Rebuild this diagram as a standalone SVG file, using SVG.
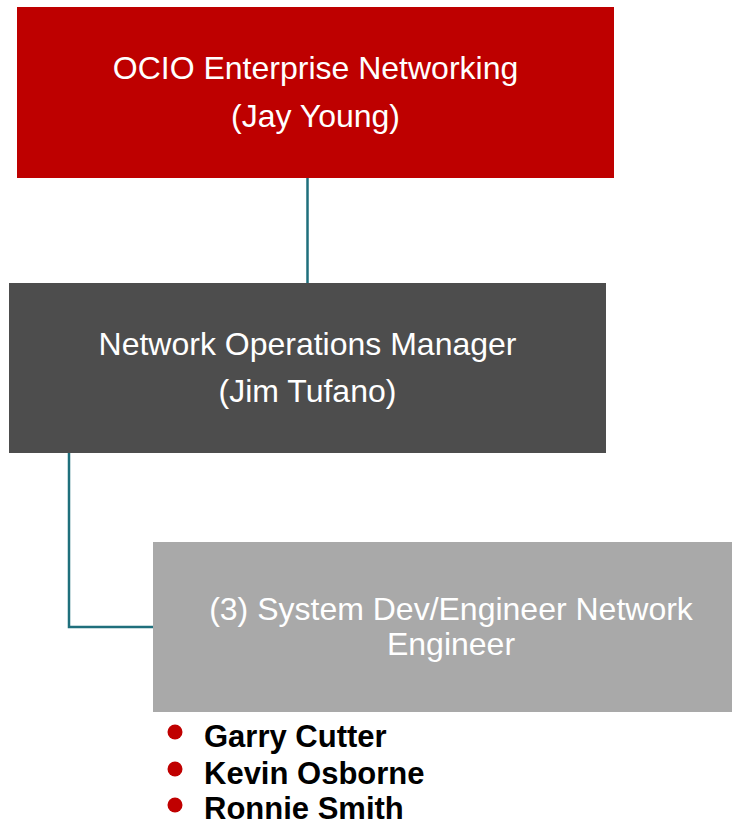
<svg xmlns="http://www.w3.org/2000/svg" width="732" height="826" viewBox="0 0 732 826">
<style>
.t{font-family:"Liberation Sans",Arial,sans-serif;font-size:32px;fill:#ffffff;text-anchor:middle}
.b{font-family:"Liberation Sans",Arial,sans-serif;font-size:31px;font-weight:bold;fill:#000000}
.c{fill:none;stroke:#1F6F7C;stroke-width:2.5}
</style>
<rect width="732" height="826" fill="#ffffff"/>
<g id="connectors">
<path class="c" d="M307.5 178 V283"/>
<path class="c" d="M69 453 V627 H153"/>
</g>
<g id="ocio">
<rect x="17" y="7" width="597" height="171" fill="#BE0000"/>
<text class="t" x="315.5" y="79">OCIO Enterprise Networking</text>
<text class="t" x="315.5" y="127">(Jay Young)</text>
</g>
<g id="manager">
<rect x="9" y="283" width="597" height="170" fill="#4D4D4D"/>
<text class="t" x="307.5" y="355">Network Operations Manager</text>
<text class="t" x="307.5" y="402">(Jim Tufano)</text>
</g>
<g id="engineer">
<rect x="153" y="542" width="579" height="170" fill="#A9A9A9"/>
<text class="t" x="451" y="620">(3) System Dev/Engineer Network</text>
<text class="t" x="451" y="655">Engineer</text>
</g>
<g id="staff">
<circle cx="175" cy="732" r="7.5" fill="#C00000"/>
<circle cx="175" cy="769" r="7.5" fill="#C00000"/>
<circle cx="175" cy="805" r="7.5" fill="#C00000"/>
<text class="b" x="204" y="747">Garry Cutter</text>
<text class="b" x="204" y="784">Kevin Osborne</text>
<text class="b" x="204" y="819">Ronnie Smith</text>
</g>
</svg>
